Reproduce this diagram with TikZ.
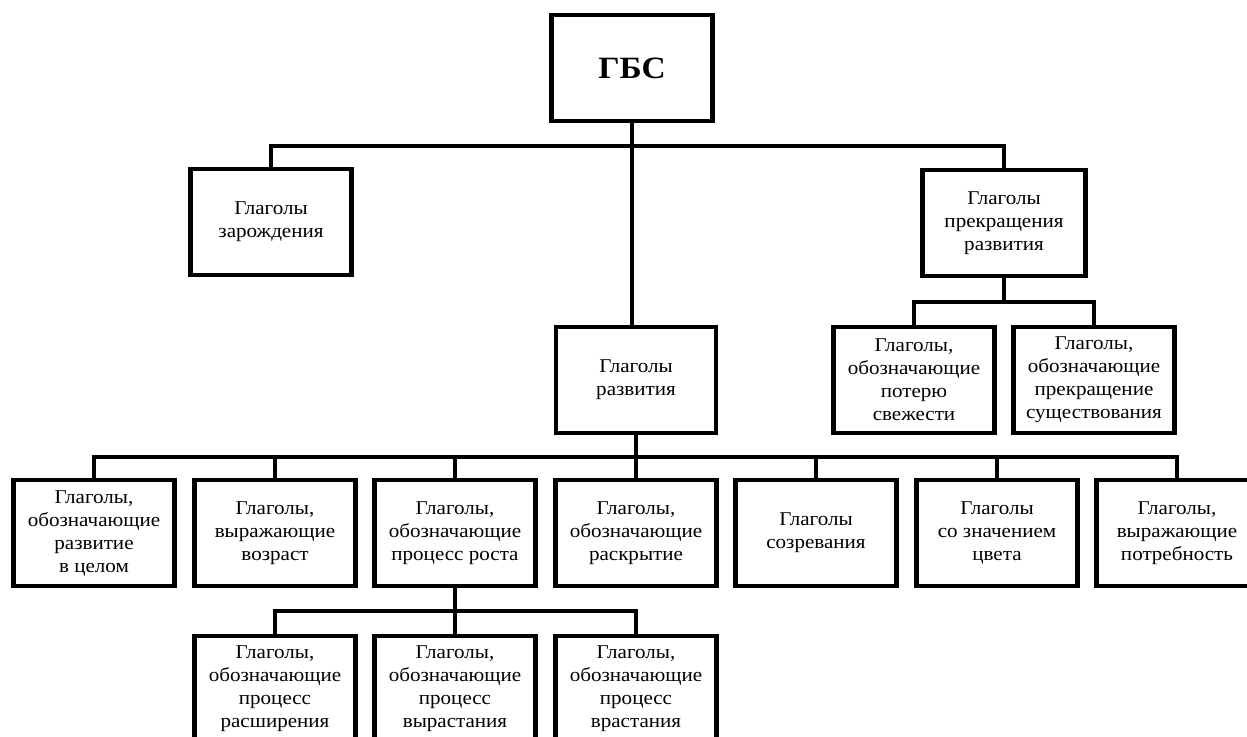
\documentclass[tikz,border=0pt]{standalone}
\usepackage{fontspec}
\setmainfont{Liberation Serif}[FakeStretch=1.08]
\usetikzlibrary{positioning, calc}

\begin{document}
\begin{tikzpicture}[x=1pt, y=-1pt,
        box/.style={draw, line width=4.5pt, fill=white, minimum width=161pt,
                    minimum height=106pt, inner sep=2pt, align=center,
                    font=\fontsize{19.5}{23}\selectfont},
        link/.style={line width=3.5pt}]
        \useasboundingbox (0,0) rectangle (1247,736);
        % top levels
        \node[box, font=\fontsize{31}{36}\selectfont\bfseries] (gbs) at (632,68) {ГБС};
        \node[box] (zar) at (271,222) {Глаголы\\зарождения};
        \node[box, minimum width=163pt] (prek) at (1004,223) {Глаголы\\прекращения\\развития};
        \node[box, minimum width=160pt] (razv) at (636,380) {Глаголы\\развития};
        \node[box] (pot) at (914,380) {Глаголы,\\обозначающие\\потерю\\свежести};
        \node[box] (sush) at (1094,380) {Глаголы,\\обозначающие\\прекращение\\существования};
        % row of kinds of development
        \node[box] (r1) at (94,533) {Глаголы,\\обозначающие\\развитие\\в целом};
        \node[box] (r2) at (275,533) {Глаголы,\\выражающие\\возраст};
        \node[box] (r3) at (455,533) {Глаголы,\\обозначающие\\процесс роста};
        \node[box] (r4) at (636,533) {Глаголы,\\обозначающие\\раскрытие};
        \node[box] (r5) at (816,533) {Глаголы\\созревания};
        \node[box] (r6) at (997,533) {Глаголы\\со значением\\цвета};
        \node[box] (r7) at (1177,533) {Глаголы,\\выражающие\\потребность};
        % growth processes
        \node[box] (g1) at (275,689) {Глаголы,\\обозначающие\\процесс\\расширения};
        \node[box] (g2) at (455,689) {Глаголы,\\обозначающие\\процесс\\вырастания};
        \node[box] (g3) at (636,689) {Глаголы,\\обозначающие\\процесс\\врастания};
        % branch lines
        \coordinate (bar1) at (632,146);
        \coordinate (bar2) at (636,457);
        \coordinate (bar3) at (455,611);
        \coordinate (bar4) at (1004,302);
        \draw[link] (gbs.south) -- (gbs.south |- razv.north);
        \draw[link] (zar.north) -- (zar.north |- bar1) -- (prek.north |- bar1) -- (prek.north);
        \draw[link] (prek.south) -- (bar4);
        \draw[link] (pot.north) -- (pot.north |- bar4) -- (sush.north |- bar4) -- (sush.north);
        \draw[link] (razv.south) -- (bar2);
        \draw[link] (r1.north) -- (r1.north |- bar2) -- (r7.north |- bar2) -- (r7.north);
        \foreach \n in {r2, r3, r4, r5, r6}
          \draw[link] (\n.north) -- (\n.north |- bar2);
        \draw[link] (r3.south) -- (bar3);
        \draw[link] (g1.north) -- (g1.north |- bar3) -- (g3.north |- bar3) -- (g3.north);
        \draw[link] (g2.north) -- (g2.north |- bar3);
      \end{tikzpicture}
\end{document}
